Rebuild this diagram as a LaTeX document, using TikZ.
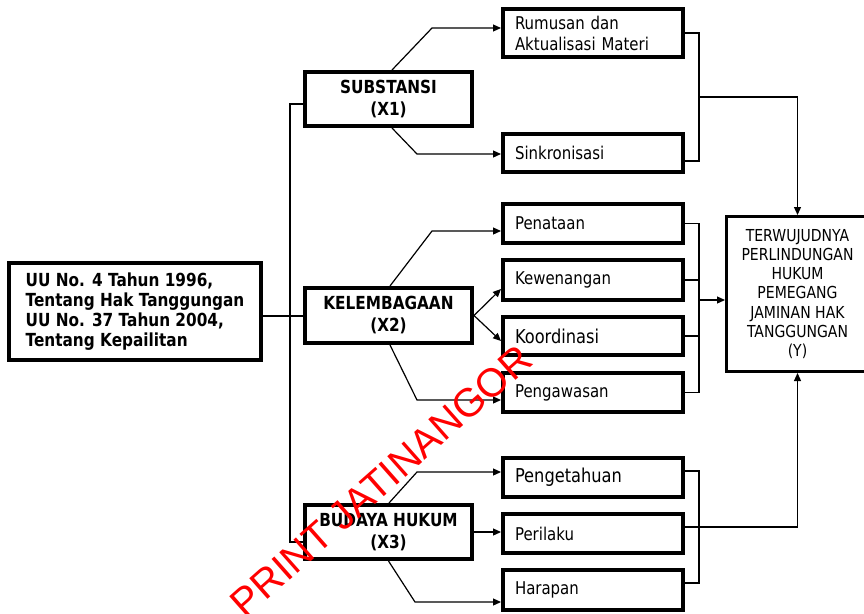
\documentclass[tikz,border=0pt]{standalone}
\usepackage{fontspec}
\setmainfont{DejaVu Sans}[FakeStretch=0.85]
\newfontfamily\wmfont{Liberation Sans}
\usetikzlibrary{arrows.meta}
\begin{document}
\begin{tikzpicture}[x=1pt,y=-1pt,
  box/.style={draw, line width=4pt, inner sep=0pt},
  bigbox/.style={box, font=\bfseries\fontsize{18}{22}\selectfont, align=center, minimum width=167pt},
  colbox/.style={box, text width=156pt, inner xsep=12pt, inner ysep=0pt, align=left, font=\fontsize{17.6}{21}\selectfont},
  colbig/.style={colbox, font=\fontsize{19.1}{21}\selectfont},
  conn/.style={line width=1.2pt},
  arr/.style={conn, -{Triangle[length=8pt,width=7pt]}},
  wm/.style={text=red, font=\wmfont\fontsize{40}{40}\selectfont, inner sep=0pt}
  ]
\useasboundingbox (0,0) rectangle (864,613);

% main boxes
\node[box, minimum width=252pt, minimum height=97pt, align=left,
      font=\bfseries\fontsize{18}{20}\selectfont] (L) at (135,311.5)
  {UU No. 4 Tahun 1996,\\Tentang Hak Tanggungan\\UU No. 37 Tahun 2004,\\Tentang Kepailitan};

\node[bigbox, minimum height=54pt] (X1) at (388.5,99) {SUBSTANSI\\(X1)};
\node[bigbox, minimum height=55pt] (X2) at (388.5,315.5) {KELEMBAGAAN\\(X2)};
\node[bigbox, minimum height=54pt] (X3) at (388.5,532) {BUDAYA HUKUM\\(X3)};

% column boxes
\node[colbox, minimum height=48pt] (R1) at (593,33) {Rumusan dan\\Aktualisasi Materi};
\node[colbox, minimum height=38pt] (R2) at (593,153) {Sinkronisasi};
\node[colbox, minimum height=39pt] (R3) at (593,223.5) {Penataan};
\node[colbox, minimum height=40pt] (R4) at (593,280) {Kewenangan};
\node[colbig, minimum height=38pt] (R5) at (593,336) {Koordinasi};
\node[colbox, minimum height=39pt] (R6) at (593,392.5) {Pengawasan};
\node[colbig, minimum height=39pt] (R7) at (593,477.5) {Pengetahuan};
\node[colbox, minimum height=39pt] (R8) at (593,533.5) {Perilaku};
\node[colbox, minimum height=40pt] (R9) at (593,590) {Harapan};

% result box
\node[draw, line width=3.3pt, inner sep=0pt, minimum width=141.7pt, minimum height=154.7pt,
      align=center, font=\fontsize{16.5}{19.2}\selectfont] (Y) at (797.5,294)
  {TERWUJUDNYA\\PERLINDUNGAN\\HUKUM\\PEMEGANG\\JAMINAN HAK\\TANGGUNGAN\\(Y)};

% trunk from the laws box
\coordinate (tA) at (290,104);
\coordinate (tB) at (290,542);
\coordinate (lj) at (290,316);
\draw[conn] (tA -| X1.west) -- (tA) -- (tB) -- (tB -| X3.west);
\draw[conn] (lj -| L.east) -- (lj -| X2.west);

% branches to the sub-boxes
\coordinate (k1) at (432,28);
\coordinate (k2) at (417,154);
\coordinate (k3) at (432,231);
\coordinate (k4) at (417,400);
\coordinate (k5) at (417,472);
\coordinate (k6) at (415,602);
\draw[arr] ([xshift=3.5pt]X1.north) -- (k1) -- (k1 -| R1.west);
\draw[arr] ([xshift=3.5pt]X1.south) -- (k2) -- (k2 -| R2.west);
\draw[arr] ([xshift=1.5pt]X2.north) -- (k3) -- (k3 -| R3.west);
\draw[arr] (X2.east) -- ([yshift=-9pt]R4.west);
\draw[arr] (X2.east) -- ([yshift=-5pt]R5.west);
\draw[arr] ([xshift=1.5pt]X2.south) -- (k4) -- (k4 -| R6.west);
\draw[arr] ([xshift=0.5pt]X3.north) -- (k5) -- (k5 -| R7.west);
\draw[arr] (X3.east) -- (X3.east -| R8.west);
\draw[arr] (X3.south) -- (k6) -- (k6 -| R9.west);

% collecting lines to Y
\coordinate (g1) at (699,97);
\coordinate (s2) at ([yshift=-8pt]R2.east);
\draw[conn] (R1.east) -- (R1.east -| g1) -- (s2 -| g1) -- (s2);
\draw[arr] (g1) -- (g1 -| Y.north) -- (Y.north);

\coordinate (g2) at (699,300);
\draw[conn] (R3.east) -- (R3.east -| g2) -- (R6.east -| g2) -- (R6.east);
\draw[conn] (R4.east) -- (R4.east -| g2);
\draw[conn] (R5.east) -- (R5.east -| g2);
\draw[arr] (g2) -- (g2 -| Y.west);

\coordinate (g3) at (699,527);
\coordinate (s7) at ([yshift=6.5pt]R7.east);
\coordinate (s8) at ([yshift=6.5pt]R8.east);
\coordinate (s9) at ([yshift=7pt]R9.east);
\draw[conn] (s7) -- (s7 -| g3) -- (s9 -| g3) -- (s9);
\draw[arr] (s8) -- (s8 -| Y.south) -- (Y.south);

% watermark
\node[wm, rotate=41.5] (wm) at (381,481) {PRINT JATINANGOR};
\end{tikzpicture}
\end{document}
